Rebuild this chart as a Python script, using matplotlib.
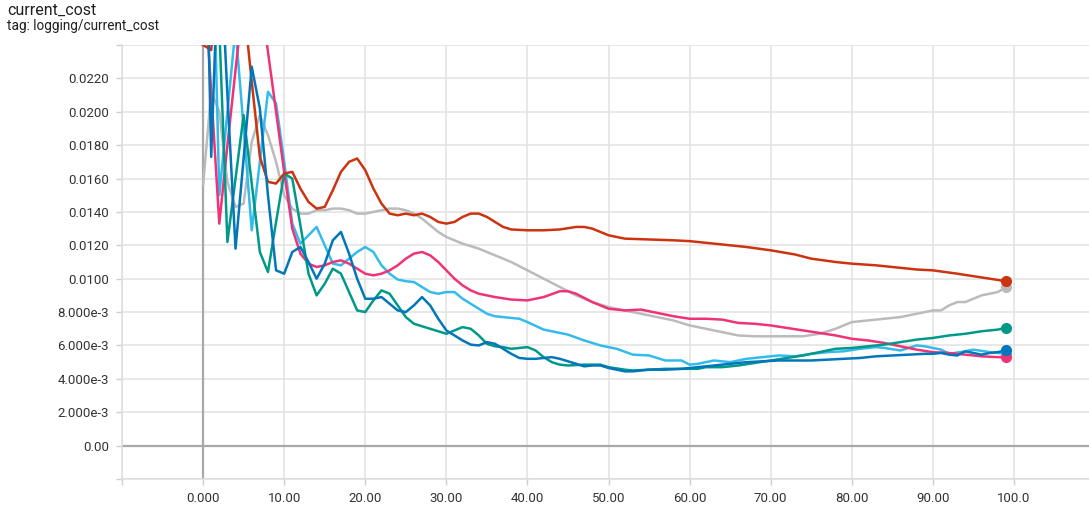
import matplotlib
matplotlib.use("Agg")
import matplotlib.pyplot as plt

plt.rcParams['font.family'] = ['Roboto', 'DejaVu Sans']

# cost values are listed in units of 1e-3
UNIT = 1e-3

steps_red = [0, 1, 2, 3, 4, 5, 6, 7, 8, 9, 10, 11, 12, 13, 14, 15, 16, 17, 18, 19,
             20, 21, 22, 23, 24, 25, 26, 27, 28, 29, 30, 31, 32, 33, 34, 35, 36, 37,
             38, 40, 42, 44, 46, 47, 48, 50, 52, 55, 58, 60, 63, 65, 67, 70, 73, 75,
             78, 80, 83, 85, 88, 90, 93, 95, 97, 99]
cost_red = [24.0, 23.7, 30.0, 32.0, 29.0, 26.5, 21.8, 17.3, 15.8, 15.7, 16.3, 16.4,
            15.4, 14.6, 14.2, 14.3, 15.3, 16.4, 17.0, 17.2, 16.5, 15.4, 14.5, 13.9,
            13.8, 13.9, 13.8, 13.9, 13.7, 13.4, 13.3, 13.4, 13.7, 13.9, 13.9, 13.7,
            13.4, 13.1, 12.95, 12.9, 12.9, 12.95, 13.1, 13.1, 13.0, 12.6, 12.4, 12.35,
            12.3, 12.25, 12.1, 12.0, 11.9, 11.7, 11.45, 11.2, 11.0, 10.9, 10.8, 10.7,
            10.55, 10.5, 10.3, 10.15, 10.0, 9.85]

steps_grey = [0, 1, 2, 3, 4, 5, 6, 7, 8, 9, 10, 11, 12, 13, 14, 15, 16, 17, 18, 19,
              20, 21, 22, 23, 24, 25, 26, 27, 28, 29, 30, 32, 34, 36, 38, 40, 42, 44,
              46, 48, 50, 52, 54, 56, 58, 60, 62, 64, 66, 68, 70, 72, 74, 76, 78, 80,
              82, 84, 86, 88, 90, 91, 92, 93, 94, 95, 96, 97, 98, 99]
cost_grey = [15.6, 21.2, 20.0, 15.8, 14.3, 14.5, 18.2, 19.8, 18.6, 17.0, 15.0, 14.2,
             13.9, 13.9, 14.1, 14.1, 14.2, 14.2, 14.1, 13.9, 13.9, 14.0, 14.1, 14.2,
             14.2, 14.1, 13.9, 13.6, 13.2, 12.8, 12.5, 12.1, 11.8, 11.4, 11.0, 10.5,
             10.0, 9.5, 9.0, 8.6, 8.3, 8.1, 7.9, 7.7, 7.5, 7.2, 7.0, 6.8, 6.6, 6.55,
             6.55, 6.55, 6.55, 6.7, 7.0, 7.4, 7.5, 7.6, 7.7, 7.9, 8.1, 8.1, 8.4, 8.6,
             8.6, 8.8, 9.0, 9.1, 9.2, 9.5]

steps_magenta = [0, 1, 2, 3, 4, 5, 6, 7, 8, 9, 10, 11, 12, 13, 14, 15, 16, 17, 18, 19,
                 20, 21, 22, 23, 24, 25, 26, 27, 28, 29, 30, 31, 32, 33, 34, 35, 36, 38,
                 40, 42, 44, 45, 46, 48, 50, 52, 54, 56, 58, 60, 62, 64, 66, 68, 70, 72,
                 74, 76, 78, 80, 82, 84, 86, 88, 90, 92, 94, 96, 98, 99]
cost_magenta = [29.0, 21.2, 13.3, 18.0, 22.5, 27.0, 30.0, 27.3, 23.6, 20.0, 16.4, 13.0,
                11.5, 10.9, 10.7, 10.8, 11.0, 11.1, 10.9, 10.6, 10.3, 10.2, 10.3, 10.5,
                10.8, 11.2, 11.5, 11.6, 11.4, 11.0, 10.5, 10.0, 9.6, 9.3, 9.1, 9.0, 8.9,
                8.75, 8.7, 8.9, 9.25, 9.25, 9.1, 8.6, 8.2, 8.1, 8.15, 7.95, 7.75, 7.6,
                7.6, 7.55, 7.35, 7.3, 7.2, 7.05, 6.9, 6.75, 6.6, 6.4, 6.3, 6.15, 5.95,
                5.75, 5.6, 5.55, 5.45, 5.35, 5.3, 5.3]

steps_cyan = [0, 1, 2, 3, 4, 5, 6, 7, 8, 9, 10, 11, 12, 13, 14, 15, 16, 17, 18, 19,
              20, 21, 22, 23, 24, 25, 26, 27, 28, 29, 30, 31, 32, 33, 34, 35, 36, 38,
              39, 40, 42, 44, 45, 47, 49, 51, 53, 55, 57, 59, 60, 61, 63, 65, 67, 69,
              71, 73, 75, 77, 79, 81, 83, 84, 86, 88, 89, 90, 91, 92, 94, 95, 97, 99]
cost_cyan = [29.0, 35.0, 15.0, 20.0, 25.0, 19.0, 12.9, 17.0, 21.2, 20.5, 17.0, 13.3,
             12.1, 12.6, 13.1, 12.0, 10.9, 10.8, 11.2, 11.6, 11.9, 11.6, 10.8, 10.3,
             9.95, 9.85, 9.8, 9.5, 9.2, 9.1, 9.2, 9.2, 8.8, 8.5, 8.2, 7.9, 7.75, 7.65,
             7.6, 7.4, 6.95, 6.75, 6.65, 6.3, 6.0, 5.8, 5.45, 5.4, 5.1, 5.1, 4.85, 4.9,
             5.1, 5.0, 5.2, 5.3, 5.4, 5.35, 5.5, 5.6, 5.65, 5.8, 5.9, 5.85, 5.7, 6.0,
             5.95, 5.85, 5.75, 5.5, 5.65, 5.75, 5.6, 5.5]

steps_teal = [0, 1, 2, 3, 4, 5, 6, 7, 8, 9, 10, 11, 12, 13, 14, 15, 16, 17, 18, 19,
              20, 21, 22, 23, 24, 25, 26, 27, 28, 29, 30, 31, 32, 33, 34, 35, 36, 37,
              38, 40, 41, 42, 43, 44, 45, 47, 49, 50, 52, 53, 55, 57, 59, 61, 62, 64,
              66, 68, 70, 72, 74, 76, 78, 80, 82, 84, 86, 88, 90, 92, 94, 96, 98, 99]
cost_teal = [32.0, 33.0, 25.0, 12.2, 16.0, 19.8, 15.7, 11.6, 10.4, 13.4, 16.3, 16.0,
             13.2, 10.3, 9.0, 9.7, 10.6, 10.3, 9.2, 8.1, 8.0, 8.7, 9.3, 9.1, 8.4, 7.7,
             7.3, 7.15, 7.0, 6.85, 6.7, 6.9, 7.1, 7.0, 6.6, 6.1, 5.95, 5.9, 5.8, 5.9,
             5.7, 5.3, 5.0, 4.85, 4.8, 4.85, 4.85, 4.7, 4.55, 4.5, 4.55, 4.6, 4.6, 4.6,
             4.7, 4.7, 4.8, 4.95, 5.1, 5.25, 5.4, 5.6, 5.8, 5.85, 5.95, 6.05, 6.2, 6.35,
             6.45, 6.6, 6.7, 6.85, 6.95, 7.05]

steps_blue = [0, 1, 2, 3, 4, 5, 6, 7, 8, 9, 10, 11, 12, 13, 14, 15, 16, 17, 18, 19,
              20, 21, 22, 23, 24, 25, 26, 27, 28, 29, 30, 31, 32, 33, 34, 35, 36, 37,
              38, 39, 40, 41, 42, 43, 44, 45, 46, 47, 48, 49, 50, 51, 52, 53, 54, 55,
              57, 59, 61, 63, 65, 67, 69, 71, 73, 75, 77, 79, 81, 83, 85, 87, 89, 90,
              91, 92, 93, 94, 95, 96, 97, 98, 99]
cost_blue = [40.0, 17.3, 31.0, 21.0, 11.8, 17.2, 22.7, 20.2, 15.0, 10.5, 10.3, 11.6,
             11.9, 11.0, 10.0, 10.9, 12.3, 12.8, 11.5, 10.0, 8.8, 8.8, 8.9, 8.5, 8.1,
             8.0, 8.4, 8.9, 8.4, 7.6, 6.9, 6.6, 6.3, 6.05, 6.0, 6.2, 6.1, 5.8, 5.5,
             5.25, 5.2, 5.2, 5.25, 5.3, 5.2, 5.05, 4.9, 4.75, 4.8, 4.8, 4.65, 4.55,
             4.45, 4.45, 4.5, 4.55, 4.55, 4.6, 4.7, 4.8, 4.9, 5.0, 5.05, 5.1, 5.1, 5.1,
             5.15, 5.2, 5.25, 5.35, 5.4, 5.45, 5.5, 5.5, 5.55, 5.45, 5.4, 5.65, 5.55,
             5.45, 5.55, 5.6, 5.7]

series = [
    (steps_grey, cost_grey, "#bbbbbb"),
    (steps_cyan, cost_cyan, "#33bbee"),
    (steps_magenta, cost_magenta, "#ee3377"),
    (steps_teal, cost_teal, "#009988"),
    (steps_red, cost_red, "#cc3311"),
    (steps_blue, cost_blue, "#0077bb"),
]

x_ticks = [-10, 0, 10, 20, 30, 40, 50, 60, 70, 80, 90, 100]
x_labels = ["", "0.000", "10.00", "20.00", "30.00", "40.00", "50.00", "60.00",
            "70.00", "80.00", "90.00", "100.0"]
y_ticks = [-0.002, 0.0, 0.002, 0.004, 0.006, 0.008, 0.010, 0.012, 0.014, 0.016,
           0.018, 0.020, 0.022, 0.024]
y_labels = ["", "0.00", "2.000e-3", "4.000e-3", "6.000e-3", "8.000e-3", "0.0100",
            "0.0120", "0.0140", "0.0160", "0.0180", "0.0200", "0.0220", ""]

W, H = 1089, 512
fig = plt.figure(figsize=(W / 100, H / 100), dpi=100)
fig.patch.set_facecolor("white")
ax = fig.add_axes([122 / W, 1 - 479 / H, 1 - 122 / W, (479 - 45) / H])

for xs, ys, color in series:
    vals = [v * UNIT for v in ys]
    ax.plot(xs, vals, color=color, lw=1.8, solid_joinstyle="round", zorder=3)
    ax.plot(xs[-1], vals[-1], "o", color=color, ms=7, mec=color, zorder=4)

ax.set_xlim(-10, 109.25)
ax.set_ylim(-0.002, 0.024)
ax.set_xticks(x_ticks)
ax.set_xticklabels(x_labels)
ax.set_yticks(y_ticks)
ax.set_yticklabels(y_labels)

ax.grid(True, color="#e2e2e2", lw=1.1, zorder=0)
ax.set_axisbelow(True)
ax.axhline(0, color="#a8a8a8", lw=1.6, zorder=1)
ax.axvline(0, color="#a8a8a8", lw=1.6, zorder=1)

for side in ("top", "right"):
    ax.spines[side].set_visible(False)
for side in ("left", "bottom"):
    ax.spines[side].set_color("#dcdcdc")
    ax.spines[side].set_linewidth(1.1)

ax.tick_params(axis="both", colors="#d0d0d0", labelcolor="#333333",
               labelsize=9.5, width=1, length=4.5, pad=5)

fig.text(7 / W, 1 - 3 / H, "current_cost", fontsize=11.5, color="#212121",
         ha="left", va="top")
fig.text(7 / W, 1 - 19 / H, "tag: logging/current_cost", fontsize=9.8,
         color="#212121", ha="left", va="top")

fig.savefig("out.png", dpi=100, facecolor="white")
